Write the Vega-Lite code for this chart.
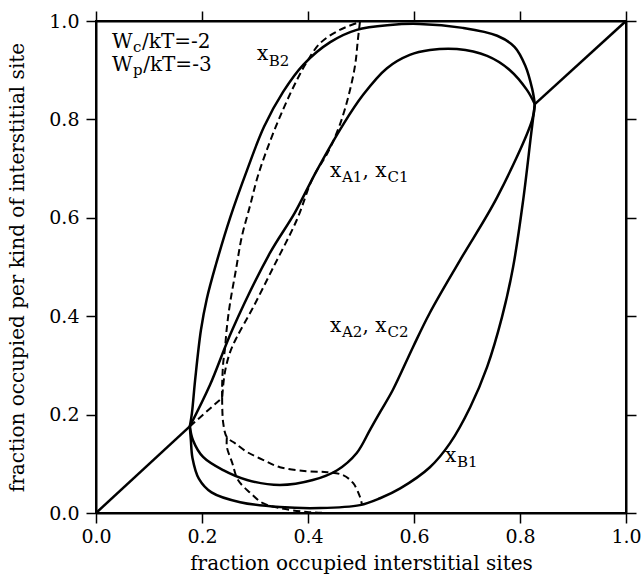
{
  "$schema": "https://vega.github.io/schema/vega-lite/v6.json",
  "width": 530,
  "height": 492,
  "autosize": {"type": "none"},
  "padding": {"left": 96, "top": 21, "right": 16, "bottom": 66},
  "background": "white",
  "config": {
    "view": {"stroke": "black", "strokeWidth": 2},
    "axis": {
      "domainColor": "black", "domainWidth": 2,
      "tickColor": "black", "tickWidth": 1.5, "tickSize": 10,
      "labelFont": "DejaVu Serif", "labelFontSize": 19, "labelColor": "black",
      "titleFont": "DejaVu Serif", "titleFontSize": 20, "titleFontWeight": "normal", "titleColor": "black",
      "grid": false, "labelFlush": false, "labelOverlap": false
    }
  },
  "datasets": {
    "solid": [
      {"s": "d1", "i": 0, "x": 0, "y": 0},
      {"s": "d1", "i": 1, "x": 0.177, "y": 0.176},
      {"s": "d2", "i": 0, "x": 0.828, "y": 0.831},
      {"s": "d2", "i": 1, "x": 1, "y": 1},

      {"s": "A1", "i": 0, "x": 0.177, "y": 0.176},
      {"s": "A1", "i": 1, "x": 0.215, "y": 0.260},
      {"s": "A1", "i": 2, "x": 0.257, "y": 0.372},
      {"s": "A1", "i": 3, "x": 0.328, "y": 0.528},
      {"s": "A1", "i": 4, "x": 0.375, "y": 0.610},
      {"s": "A1", "i": 5, "x": 0.415, "y": 0.693},
      {"s": "A1", "i": 6, "x": 0.466, "y": 0.789},
      {"s": "A1", "i": 7, "x": 0.504, "y": 0.850},
      {"s": "A1", "i": 8, "x": 0.549, "y": 0.904},
      {"s": "A1", "i": 9, "x": 0.592, "y": 0.931},
      {"s": "A1", "i": 10, "x": 0.630, "y": 0.941},
      {"s": "A1", "i": 11, "x": 0.681, "y": 0.943},
      {"s": "A1", "i": 12, "x": 0.738, "y": 0.929},
      {"s": "A1", "i": 13, "x": 0.781, "y": 0.900},
      {"s": "A1", "i": 14, "x": 0.813, "y": 0.860},
      {"s": "A1", "i": 15, "x": 0.828, "y": 0.831},

      {"s": "A2", "i": 0, "x": 0.828, "y": 0.831},
      {"s": "A2", "i": 1, "x": 0.823, "y": 0.799},
      {"s": "A2", "i": 2, "x": 0.757, "y": 0.642},
      {"s": "A2", "i": 3, "x": 0.687, "y": 0.514},
      {"s": "A2", "i": 4, "x": 0.630, "y": 0.407},
      {"s": "A2", "i": 5, "x": 0.598, "y": 0.337},
      {"s": "A2", "i": 6, "x": 0.560, "y": 0.250},
      {"s": "A2", "i": 7, "x": 0.536, "y": 0.205},
      {"s": "A2", "i": 8, "x": 0.517, "y": 0.169},
      {"s": "A2", "i": 9, "x": 0.492, "y": 0.122},
      {"s": "A2", "i": 10, "x": 0.455, "y": 0.087},
      {"s": "A2", "i": 11, "x": 0.409, "y": 0.067},
      {"s": "A2", "i": 12, "x": 0.347, "y": 0.057},
      {"s": "A2", "i": 13, "x": 0.285, "y": 0.067},
      {"s": "A2", "i": 14, "x": 0.240, "y": 0.087},
      {"s": "A2", "i": 15, "x": 0.202, "y": 0.114},
      {"s": "A2", "i": 16, "x": 0.183, "y": 0.148},
      {"s": "A2", "i": 17, "x": 0.177, "y": 0.176},

      {"s": "B2", "i": 0, "x": 0.177, "y": 0.176},
      {"s": "B2", "i": 1, "x": 0.181, "y": 0.203},
      {"s": "B2", "i": 2, "x": 0.187, "y": 0.270},
      {"s": "B2", "i": 3, "x": 0.198, "y": 0.372},
      {"s": "B2", "i": 4, "x": 0.209, "y": 0.435},
      {"s": "B2", "i": 5, "x": 0.226, "y": 0.504},
      {"s": "B2", "i": 6, "x": 0.253, "y": 0.600},
      {"s": "B2", "i": 7, "x": 0.285, "y": 0.697},
      {"s": "B2", "i": 8, "x": 0.317, "y": 0.785},
      {"s": "B2", "i": 9, "x": 0.353, "y": 0.856},
      {"s": "B2", "i": 10, "x": 0.391, "y": 0.911},
      {"s": "B2", "i": 11, "x": 0.442, "y": 0.957},
      {"s": "B2", "i": 12, "x": 0.492, "y": 0.982},
      {"s": "B2", "i": 13, "x": 0.555, "y": 0.992},
      {"s": "B2", "i": 14, "x": 0.610, "y": 0.994},
      {"s": "B2", "i": 15, "x": 0.692, "y": 0.986},
      {"s": "B2", "i": 16, "x": 0.757, "y": 0.970},
      {"s": "B2", "i": 17, "x": 0.790, "y": 0.947},
      {"s": "B2", "i": 18, "x": 0.810, "y": 0.909},
      {"s": "B2", "i": 19, "x": 0.823, "y": 0.862},
      {"s": "B2", "i": 20, "x": 0.828, "y": 0.831},

      {"s": "B1", "i": 0, "x": 0.177, "y": 0.176},
      {"s": "B1", "i": 1, "x": 0.179, "y": 0.148},
      {"s": "B1", "i": 2, "x": 0.182, "y": 0.112},
      {"s": "B1", "i": 3, "x": 0.194, "y": 0.070},
      {"s": "B1", "i": 4, "x": 0.218, "y": 0.042},
      {"s": "B1", "i": 5, "x": 0.272, "y": 0.022},
      {"s": "B1", "i": 6, "x": 0.347, "y": 0.012},
      {"s": "B1", "i": 7, "x": 0.423, "y": 0.010},
      {"s": "B1", "i": 8, "x": 0.498, "y": 0.016},
      {"s": "B1", "i": 9, "x": 0.536, "y": 0.030},
      {"s": "B1", "i": 10, "x": 0.574, "y": 0.050},
      {"s": "B1", "i": 11, "x": 0.630, "y": 0.093},
      {"s": "B1", "i": 12, "x": 0.668, "y": 0.142},
      {"s": "B1", "i": 13, "x": 0.706, "y": 0.215},
      {"s": "B1", "i": 14, "x": 0.738, "y": 0.297},
      {"s": "B1", "i": 15, "x": 0.766, "y": 0.398},
      {"s": "B1", "i": 16, "x": 0.787, "y": 0.500},
      {"s": "B1", "i": 17, "x": 0.806, "y": 0.636},
      {"s": "B1", "i": 18, "x": 0.821, "y": 0.770},
      {"s": "B1", "i": 19, "x": 0.828, "y": 0.831}
    ],
    "dashed": [
      {"s": "d0", "i": 0, "x": 0.177, "y": 0.176},
      {"s": "d0", "i": 1, "x": 0.238, "y": 0.234},

      {"s": "uo", "i": 0, "x": 0.238, "y": 0.234},
      {"s": "uo", "i": 1, "x": 0.238, "y": 0.260},
      {"s": "uo", "i": 2, "x": 0.240, "y": 0.305},
      {"s": "uo", "i": 3, "x": 0.243, "y": 0.331},
      {"s": "uo", "i": 4, "x": 0.247, "y": 0.378},
      {"s": "uo", "i": 5, "x": 0.253, "y": 0.427},
      {"s": "uo", "i": 6, "x": 0.264, "y": 0.494},
      {"s": "uo", "i": 7, "x": 0.275, "y": 0.561},
      {"s": "uo", "i": 8, "x": 0.291, "y": 0.626},
      {"s": "uo", "i": 9, "x": 0.306, "y": 0.687},
      {"s": "uo", "i": 10, "x": 0.330, "y": 0.760},
      {"s": "uo", "i": 11, "x": 0.355, "y": 0.825},
      {"s": "uo", "i": 12, "x": 0.379, "y": 0.880},
      {"s": "uo", "i": 13, "x": 0.398, "y": 0.917},
      {"s": "uo", "i": 14, "x": 0.423, "y": 0.955},
      {"s": "uo", "i": 15, "x": 0.460, "y": 0.982},
      {"s": "uo", "i": 16, "x": 0.498, "y": 0.998},

      {"s": "ui", "i": 0, "x": 0.498, "y": 0.998},
      {"s": "ui", "i": 1, "x": 0.494, "y": 0.961},
      {"s": "ui", "i": 2, "x": 0.489, "y": 0.911},
      {"s": "ui", "i": 3, "x": 0.477, "y": 0.850},
      {"s": "ui", "i": 4, "x": 0.460, "y": 0.789},
      {"s": "ui", "i": 5, "x": 0.438, "y": 0.734},
      {"s": "ui", "i": 6, "x": 0.409, "y": 0.681},
      {"s": "ui", "i": 7, "x": 0.379, "y": 0.596},
      {"s": "ui", "i": 8, "x": 0.332, "y": 0.494},
      {"s": "ui", "i": 9, "x": 0.294, "y": 0.413},
      {"s": "ui", "i": 10, "x": 0.266, "y": 0.358},
      {"s": "ui", "i": 11, "x": 0.253, "y": 0.327},
      {"s": "ui", "i": 12, "x": 0.243, "y": 0.285},
      {"s": "ui", "i": 13, "x": 0.238, "y": 0.234},

      {"s": "la", "i": 0, "x": 0.238, "y": 0.234},
      {"s": "la", "i": 1, "x": 0.240, "y": 0.183},
      {"s": "la", "i": 2, "x": 0.247, "y": 0.154},
      {"s": "la", "i": 3, "x": 0.262, "y": 0.142},
      {"s": "la", "i": 4, "x": 0.285, "y": 0.124},
      {"s": "la", "i": 5, "x": 0.315, "y": 0.108},
      {"s": "la", "i": 6, "x": 0.347, "y": 0.093},
      {"s": "la", "i": 7, "x": 0.398, "y": 0.085},
      {"s": "la", "i": 8, "x": 0.436, "y": 0.083},
      {"s": "la", "i": 9, "x": 0.466, "y": 0.077},
      {"s": "la", "i": 10, "x": 0.485, "y": 0.061},
      {"s": "la", "i": 11, "x": 0.498, "y": 0.033},
      {"s": "la", "i": 12, "x": 0.502, "y": 0.016},

      {"s": "lb", "i": 0, "x": 0.247, "y": 0.154},
      {"s": "lb", "i": 1, "x": 0.247, "y": 0.134},
      {"s": "lb", "i": 2, "x": 0.257, "y": 0.102},
      {"s": "lb", "i": 3, "x": 0.268, "y": 0.067},
      {"s": "lb", "i": 4, "x": 0.291, "y": 0.041},
      {"s": "lb", "i": 5, "x": 0.315, "y": 0.020},
      {"s": "lb", "i": 6, "x": 0.347, "y": 0.010},
      {"s": "lb", "i": 7, "x": 0.398, "y": 0.002},
      {"s": "lb", "i": 8, "x": 0.442, "y": 0.0},
      {"s": "lb", "i": 9, "x": 0.498, "y": 0.0}
    ],
    "labels": [
      {"k": "main", "x": 0.030, "y": 0.945, "t": "W"},
      {"k": "main", "x": 0.087, "y": 0.945, "t": "/kT=-2"},
      {"k": "main", "x": 0.030, "y": 0.898, "t": "W"},
      {"k": "main", "x": 0.089, "y": 0.898, "t": "/kT=-3"},
      {"k": "main", "x": 0.3038, "y": 0.9207, "t": "x"},
      {"k": "main", "x": 0.4415, "y": 0.6829, "t": "x"},
      {"k": "main", "x": 0.5030, "y": 0.6829, "t": ", x"},
      {"k": "main", "x": 0.4415, "y": 0.3679, "t": "x"},
      {"k": "main", "x": 0.5030, "y": 0.3679, "t": ", x"},
      {"k": "main", "x": 0.6585, "y": 0.1037, "t": "x"},
      {"k": "sub", "x": 0.0700, "y": 0.937, "t": "c"},
      {"k": "sub", "x": 0.0700, "y": 0.890, "t": "p"},
      {"k": "sub", "x": 0.3260, "y": 0.9085, "t": "B2"},
      {"k": "sub", "x": 0.4640, "y": 0.6728, "t": "A1"},
      {"k": "sub", "x": 0.5500, "y": 0.6728, "t": "C1"},
      {"k": "sub", "x": 0.4640, "y": 0.3577, "t": "A2"},
      {"k": "sub", "x": 0.5500, "y": 0.3577, "t": "C2"},
      {"k": "sub", "x": 0.6810, "y": 0.0935, "t": "B1"}
    ]
  },
  "resolve": {"axis": {"x": "independent", "y": "independent"}},
  "layer": [
    {
      "data": {"name": "solid"},
      "mark": {"type": "line", "color": "black", "strokeWidth": 2.5, "strokeJoin": "round", "interpolate": "catmull-rom"},
      "encoding": {
        "x": {"field": "x", "type": "quantitative",
              "scale": {"domain": [0, 1], "nice": false, "zero": false},
              "axis": {"orient": "bottom", "values": [0, 0.2, 0.4, 0.6, 0.8, 1], "format": ".1f",
                       "title": "fraction occupied interstitial sites", "labelPadding": 4,
                       "titleX": 265, "titleY": 50, "titleAlign": "center", "titleBaseline": "middle"}},
        "y": {"field": "y", "type": "quantitative",
              "scale": {"domain": [0, 1], "nice": false, "zero": false},
              "axis": {"orient": "left", "values": [0, 0.2, 0.4, 0.6, 0.8, 1], "format": ".1f",
                       "title": "fraction occupied per kind of interstitial site", "labelPadding": 7,
                       "titleX": -79, "titleY": 246, "titleAngle": -90, "titleAlign": "center", "titleBaseline": "middle"}},
        "detail": {"field": "s"},
        "order": {"field": "i", "type": "quantitative"}
      }
    },
    {
      "data": {"name": "dashed"},
      "mark": {"type": "line", "color": "black", "strokeWidth": 2, "strokeDash": [7, 4], "interpolate": "catmull-rom"},
      "encoding": {
        "x": {"field": "x", "type": "quantitative",
              "axis": {"orient": "top", "values": [0, 0.2, 0.4, 0.6, 0.8, 1], "labels": false, "title": null}},
        "y": {"field": "y", "type": "quantitative",
              "axis": {"orient": "right", "values": [0, 0.2, 0.4, 0.6, 0.8, 1], "labels": false, "title": null}},
        "detail": {"field": "s"},
        "order": {"field": "i", "type": "quantitative"}
      }
    },
    {
      "data": {"name": "labels"},
      "transform": [{"filter": "datum.k === 'main'"}],
      "mark": {"type": "text", "font": "DejaVu Serif", "fontSize": 20, "align": "left", "baseline": "alphabetic", "color": "black"},
      "encoding": {
        "x": {"field": "x", "type": "quantitative", "axis": null},
        "y": {"field": "y", "type": "quantitative", "axis": null},
        "text": {"field": "t"}
      }
    },
    {
      "data": {"name": "labels"},
      "transform": [{"filter": "datum.k === 'sub'"}],
      "mark": {"type": "text", "font": "DejaVu Serif", "fontSize": 15, "align": "left", "baseline": "alphabetic", "color": "black"},
      "encoding": {
        "x": {"field": "x", "type": "quantitative", "axis": null},
        "y": {"field": "y", "type": "quantitative", "axis": null},
        "text": {"field": "t"}
      }
    }
  ]
}
